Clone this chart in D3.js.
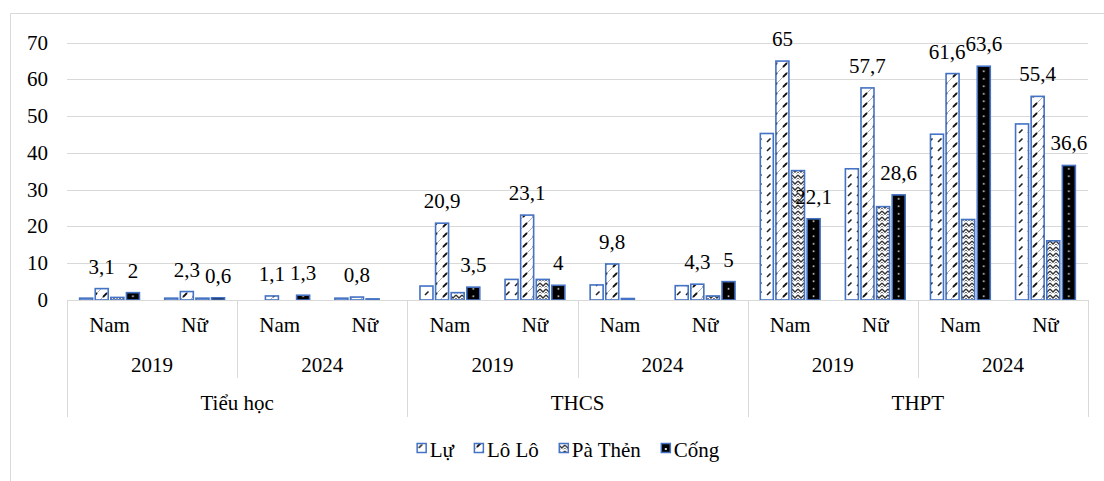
<!DOCTYPE html>
<html>
<head>
<meta charset="utf-8">
<script src="https://cdn.jsdelivr.net/npm/d3@7"></script>
</head>
<body style="margin:0;background:#fff">
<svg id="chart" width="1104" height="481" style="display:block"></svg>
<script>
// ---- Data ----
const levels = ["Tiểu học", "THCS", "THPT"];
const years = ["2019", "2024"];
const sexes = ["Nam", "Nữ"];
const series = ["Lự", "Lô Lô", "Pà Thẻn", "Cống"];
const yTicks = [0, 10, 20, 30, 40, 50, 60, 70];
// 12 groups: level x year x sex
const valLu    = [0.5, 0.5, 0, 0.5, 3.8, 5.6, 4.1, 3.9, 45.3, 35.7, 45.1, 47.9];
const valLoLo  = [3.1, 2.3, 1.1, 0.8, 20.9, 23.1, 9.8, 4.3, 65, 57.7, 61.6, 55.4];
const valPaThen= [0.7, 0.5, 0, 0.3, 2.0, 5.6, 0.4, 1.1, 35.2, 25.4, 21.9, 16.1];
const valCong  = [2, 0.6, 1.3, 0, 3.5, 4, 0, 5, 22.1, 28.6, 63.6, 36.6];
const labeledSeries = ["Lô Lô", "Cống"];

const seriesValues = [valLu, valLoLo, valPaThen, valCong];

// ---- Layout ----
const FONT = '"Liberation Serif", monospace';
const svg = d3.select("#chart");
const plot = { left: 67, right: 1088, top: 42.7, bottom: 300 };
const grid = "#d9d9d9";
const blue = "#4472C4";
const FS = 21;

function txt(sel) {
  return sel.style("font-family", FONT).attr("font-size", FS).attr("fill", "#000");
}

const groups = [];
levels.forEach(l => years.forEach(y => sexes.forEach(s => groups.push({ level: l, year: y, sex: s }))));
groups.forEach((g, i) => g.id = i);

const x0 = d3.scaleBand().domain(groups.map(g => g.id)).range([plot.left, plot.right]).padding(0);
const x1 = d3.scaleBand().domain(series).range([0, x0.bandwidth()]).paddingInner(0.167).paddingOuter(0.81);
const y = d3.scaleLinear().domain([0, 70]).range([plot.bottom, plot.top]);

// outer chart border
svg.append("line").attr("x1", 10.5).attr("x2", 1104).attr("y1", 13.5).attr("y2", 13.5).attr("stroke", grid);
svg.append("line").attr("x1", 10.5).attr("x2", 10.5).attr("y1", 13.5).attr("y2", 481).attr("stroke", grid);

// ---- Patterns ----
const defs = svg.append("defs");
const pLu = defs.append("pattern").attr("id", "pLu").attr("patternUnits", "userSpaceOnUse")
  .attr("width", 9).attr("height", 9);
pLu.append("rect").attr("width", 9).attr("height", 9).attr("fill", "#fff");
pLu.append("line").attr("x1", 2).attr("y1", 7).attr("x2", 5.5).attr("y2", 3.5)
  .attr("stroke", "#222").attr("stroke-width", 1.6);
const pLo = defs.append("pattern").attr("id", "pLo").attr("patternUnits", "userSpaceOnUse")
  .attr("width", 10).attr("height", 10);
pLo.append("rect").attr("width", 10).attr("height", 10).attr("fill", "#fff");
pLo.append("line").attr("x1", 0).attr("y1", 10).attr("x2", 10).attr("y2", 0)
  .attr("stroke", "#999").attr("stroke-width", 0.8);
pLo.append("line").attr("x1", 3).attr("y1", 7).attr("x2", 7).attr("y2", 3)
  .attr("stroke", "#111").attr("stroke-width", 1.8);
const pPa = defs.append("pattern").attr("id", "pPa").attr("patternUnits", "userSpaceOnUse")
  .attr("width", 6).attr("height", 6);
pPa.append("rect").attr("width", 6).attr("height", 6).attr("fill", "#fff");
pPa.append("path").attr("d", "M0,1 L3,4 L6,1").attr("fill", "none")
  .attr("stroke", "#333").attr("stroke-width", 1.3);
pPa.append("path").attr("d", "M0,4 L1.5,5.5 M4.5,5.5 L6,4").attr("fill", "none")
  .attr("stroke", "#777").attr("stroke-width", 1);

const fills = { "Lự": "url(#pLu)", "Lô Lô": "url(#pLo)", "Pà Thẻn": "url(#pPa)" };

// ---- Gridlines & y axis ----
svg.append("g").selectAll("line").data(yTicks.filter(t => t > 0)).join("line")
  .attr("x1", plot.left).attr("x2", plot.right)
  .attr("y1", d => Math.round(y(d)) + 0.5).attr("y2", d => Math.round(y(d)) + 0.5)
  .attr("stroke", grid).attr("stroke-width", 1);

yTicks.forEach(t => {
  txt(svg.append("text")).attr("x", 48).attr("y", y(t) + 7)
    .attr("text-anchor", "end").text(t);
});

// ---- Bars ----
const barData = [];
groups.forEach((g, i) => series.forEach((s, j) => barData.push({ g, s, v: seriesValues[j][i] })));

const barG = svg.append("g");
barData.filter(d => d.v > 0).forEach((d, k) => {
  const bx = x0(d.g.id) + x1(d.s);
  const bw = x1.bandwidth();
  const by = y(d.v);
  const bh = y(0) - y(d.v);
  let fill = fills[d.s];
  if (d.s === "Cống") {
    const pid = "pCong" + k;
    const p = defs.append("pattern").attr("id", pid).attr("patternUnits", "userSpaceOnUse")
      .attr("x", bx).attr("y", plot.bottom).attr("width", bw).attr("height", 7.5);
    p.append("rect").attr("width", bw).attr("height", 7.5).attr("fill", "#000");
    p.append("rect").attr("x", bw / 2 - 0.8).attr("y", 3).attr("width", 1.6).attr("height", 1.6).attr("fill", "#ddd");
    fill = "url(#" + pid + ")";
  }
  barG.append("rect")
    .attr("x", bx).attr("y", by).attr("width", bw).attr("height", bh)
    .attr("fill", fill).attr("stroke", blue).attr("stroke-width", 1.6);
});

// ---- Data labels (shift left to avoid overlap within group) ----
const fmt = v => String(v).replace(".", ",");
groups.forEach(g => {
  const ls = barData.filter(d => d.g === g && labeledSeries.includes(d.s) && d.v > 0);
  const nodes = ls.map(d => {
    const t = txt(svg.append("text"))
      .attr("x", x0(d.g.id) + x1(d.s) + x1.bandwidth() / 2)
      .attr("y", y(d.v) - 15)
      .attr("text-anchor", "middle")
      .text(fmt(d.v));
    return { t, d, bb: t.node().getBBox() };
  });
  if (nodes.length === 2) {
    const [a, b] = nodes;
    const vOverlap = !(a.bb.y + a.bb.height < b.bb.y || b.bb.y + b.bb.height < a.bb.y);
    const hOverlap = a.bb.x + a.bb.width - b.bb.x;
    if (vOverlap && hOverlap > 0) {
      a.t.attr("x", +a.t.attr("x") - hOverlap);
    }
  }
});

// ---- Category axis ----
svg.append("line").attr("x1", plot.left).attr("x2", plot.right)
  .attr("y1", plot.bottom + 0.5).attr("y2", plot.bottom + 0.5).attr("stroke", grid);

groups.forEach(d => {
  txt(svg.append("text")).attr("x", x0(d.id) + x0.bandwidth() / 2).attr("y", 332)
    .attr("text-anchor", "middle").text(d.sex);
});

const yearSpans = [];
levels.forEach(l => years.forEach(yr => {
  const ids = groups.filter(g => g.level === l && g.year === yr).map(g => g.id);
  yearSpans.push({ l, yr, x0: x0(ids[0]), x1: x0(ids[ids.length - 1]) + x0.bandwidth() });
}));
yearSpans.forEach(d => {
  txt(svg.append("text")).attr("x", (d.x0 + d.x1) / 2).attr("y", 372)
    .attr("text-anchor", "middle").text(d.yr);
});

const levelSpans = levels.map(l => {
  const ids = groups.filter(g => g.level === l).map(g => g.id);
  return { l, x0: x0(ids[0]), x1: x0(ids[ids.length - 1]) + x0.bandwidth() };
});
levelSpans.forEach(d => {
  txt(svg.append("text")).attr("x", (d.x0 + d.x1) / 2).attr("y", 410)
    .attr("text-anchor", "middle").text(d.l);
});

const tall = [levelSpans[0].x0].concat(levelSpans.map(d => d.x1));
svg.append("g").selectAll("line").data(tall).join("line")
  .attr("x1", d => Math.round(d) + 0.5).attr("x2", d => Math.round(d) + 0.5)
  .attr("y1", plot.bottom).attr("y2", 417).attr("stroke", grid);
const mid = yearSpans.filter((d, i) => i % 2 === 0).map(d => d.x1);
svg.append("g").selectAll("line").data(mid).join("line")
  .attr("x1", d => Math.round(d) + 0.5).attr("x2", d => Math.round(d) + 0.5)
  .attr("y1", plot.bottom).attr("y2", 378).attr("stroke", grid);

// ---- Legend ----
const items = [];
let cx = 0;
series.forEach((s, i) => {
  const gi = svg.append("g");
  const t = txt(gi.append("text")).attr("x", 13).attr("y", 457).text(s);
  const w = t.node().getComputedTextLength();
  items.push({ gi, w, off: cx });
  cx += 13 + w + 20;
});
const totalW = cx - 20;
const startX = 568 - totalW / 2;
items.forEach((it, i) => {
  it.gi.attr("transform", `translate(${startX + it.off},0)`);
  const s = series[i];
  let f = fills[s];
  if (s === "Cống") f = "#000";
  it.gi.append("rect").attr("x", 0.5).attr("y", 443.5).attr("width", 9).attr("height", 9)
    .attr("fill", f).attr("stroke", blue).attr("stroke-width", 1.5);
  if (s === "Cống") {
    it.gi.append("rect").attr("x", 4).attr("y", 448).attr("width", 2).attr("height", 2).attr("fill", "#ddd");
  }
});
</script>
</body>
</html>
